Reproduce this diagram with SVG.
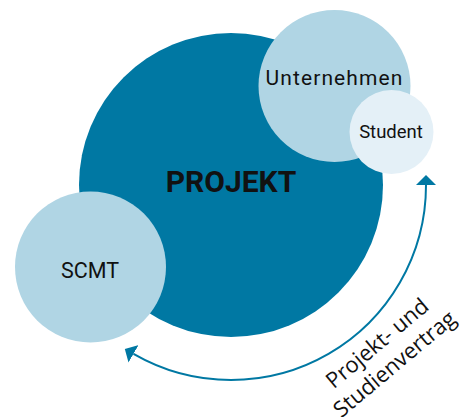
<svg xmlns="http://www.w3.org/2000/svg" width="465" height="417" viewBox="0 0 465 417">
<style>
.dark{fill:#0078A3}
.light{fill:#B0D5E4}
.pale{fill:#E4F0F7}
.lbl{font-family:Roboto,"DejaVu Sans",sans-serif;fill:#111;text-anchor:middle}
.rot{font-family:"Open Sans","DejaVu Sans",sans-serif;font-size:22px;fill:#111;text-anchor:middle}
.conn{fill:none;stroke:#0078A3;stroke-width:2}
</style>
<defs>
<marker id="ah" viewBox="0 0 10 20" refX="0" refY="10" markerWidth="10" markerHeight="20" markerUnits="userSpaceOnUse" orient="auto-start-reverse">
<path d="M0,0 L10,10 L0,20 Z" fill="#0078A3"/>
</marker>
</defs>
<g id="projekt">
<circle class="dark" cx="231" cy="185" r="152"/>
<text class="lbl" x="231" y="192" font-size="30" font-weight="bold">PROJEKT</text>
</g>
<g id="unternehmen">
<circle class="light" cx="334.5" cy="86" r="76"/>
<text class="lbl" x="334.5" y="85" font-size="21" letter-spacing="1.1">Unternehmen</text>
</g>
<g id="student">
<circle class="pale" cx="391.5" cy="132" r="42"/>
<text class="lbl" x="391" y="137.5" font-size="18.5">Student</text>
</g>
<g id="scmt">
<circle class="light" cx="90.5" cy="267" r="75.5"/>
<text class="lbl" x="90" y="278" font-size="21.5">SCMT</text>
</g>
<g id="connectors">
<path class="conn" d="M426 185 A195 195 0 0 1 133.5 353.9" marker-start="url(#ah)" marker-end="url(#ah)"/>
</g>
<g id="connector-label" transform="translate(382 349) rotate(-40)">
<text class="rot" x="0" y="0">Projekt- und</text>
<text class="rot" x="0" y="27">Studienvertrag</text>
</g>
</svg>
